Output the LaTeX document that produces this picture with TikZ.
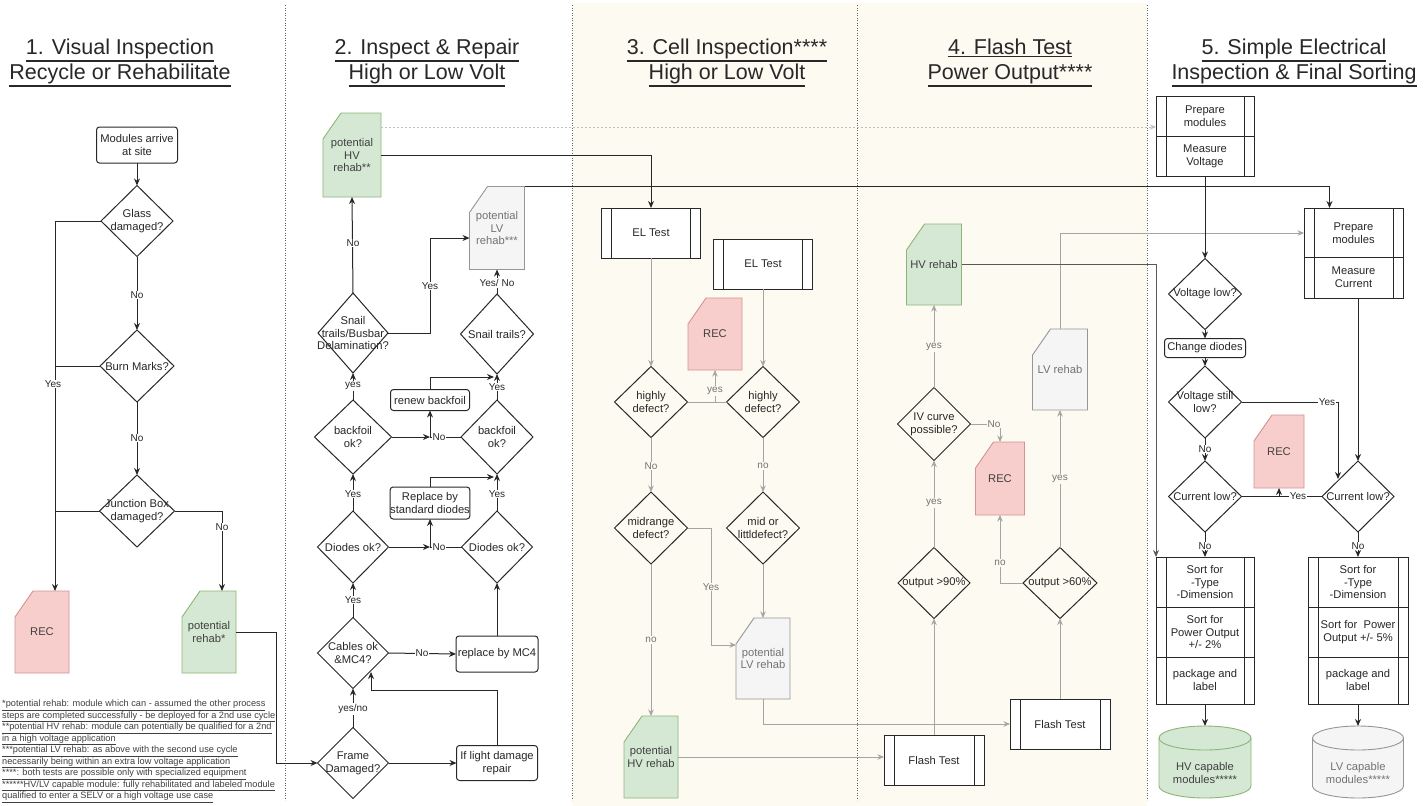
\documentclass[tikz,border=0pt]{standalone}
\usepackage{fontspec}
\setmainfont{Liberation Sans}
\usetikzlibrary{shapes.geometric,arrows.meta,calc}
\definecolor{beige}{RGB}{253,250,242}
\definecolor{gline}{RGB}{165,165,165}
\definecolor{gfill}{RGB}{213,232,212}
\definecolor{gdraw}{RGB}{140,182,118}
\definecolor{rfill}{RGB}{248,206,204}
\definecolor{rdraw}{RGB}{212,146,144}
\definecolor{lfill}{RGB}{245,245,245}
\definecolor{ldraw}{RGB}{150,150,150}
\definecolor{ink}{RGB}{40,40,40}
\newcommand{\myul}[2][1pt]{\setbox0=\hbox{#2}\rlap{\vrule height -\dimexpr\dp0+1pt\relax depth \dimexpr\dp0+1pt+#1\relax width \wd0}\box0}
\tikzset{
 base/.style={font=\fontsize{11.2}{12.8}\selectfont, text=ink, inner sep=0pt, outer sep=0pt, align=center},
 title/.style={font=\fontsize{21.5}{25}\selectfont, text=ink, align=center, inner sep=0pt},
 foot/.style={font=\fontsize{9.2}{11.5}\selectfont, text=black!75, align=left, inner sep=0pt},
 rbox/.style={base, draw=ink, rounded corners=3pt, line width=1pt, fill=white},
 dia/.style={diamond, draw=ink, line width=1pt, inner sep=0pt, outer sep=0pt},
 dtext/.style={base},
 proc/.style={base, draw=ink, line width=1pt, fill=white, path picture={\draw[ink, line width=1pt] ([xshift=10pt]path picture bounding box.north west) -- ([xshift=10pt]path picture bounding box.south west) ([xshift=-10pt]path picture bounding box.north east) -- ([xshift=-10pt]path picture bounding box.south east);}},
 card green/.style={fill=gfill, draw=gdraw, line width=0.9pt},
 card red/.style={fill=rfill, draw=rdraw, line width=0.9pt},
 card gray/.style={fill=lfill, draw=ldraw, line width=0.9pt},
 cardlabel green/.style={base, text=black!75},
 cardlabel red/.style={base, text=black!75},
 cardlabel gray/.style={base, text=black!55},
 cyl green/.style={fill=gfill, draw=gdraw, line width=0.9pt},
 cyl gray/.style={fill=lfill, draw=ldraw, line width=0.9pt},
 ln/.style={line width=1pt, draw=ink},
 arr/.style={ln, -{Stealth[length=7pt,width=6pt]}},
 darr/.style={line width=1pt, draw=black!65, -{Stealth[length=7pt,width=6pt]}},
 gln/.style={line width=0.9pt, draw=gline},
 garr/.style={gln, -{Stealth[length=6.5pt,width=5.5pt]}},
 dsh/.style={line width=0.8pt, draw=black!25, dash pattern=on 2pt off 2pt, -{Stealth[length=6pt,width=5pt]}},
 sep/.style={line width=0.9pt, draw=black!60, dash pattern=on 1.2pt off 1.3pt},
 lbl/.style={font=\fontsize{10}{11}\selectfont, text=ink, fill=white, inner sep=1pt},
 glbl/.style={lbl, fill=beige, text=black!55},
}
\newcommand{\cardnode}[7]{%
 \filldraw[card #6] ({#2-#4/2+18},{#3-#5/2}) -- ({#2+#4/2},{#3-#5/2}) -- ({#2+#4/2},{#3+#5/2}) -- ({#2-#4/2},{#3+#5/2}) -- ({#2-#4/2},{#3-#5/2+26}) -- cycle;
 \node[cardlabel #6, minimum width=#4pt, minimum height=#5pt] (#1) at (#2,#3) {#7};}
\newcommand{\dnode}[6]{%
 \node[dia, minimum width=#4pt, minimum height=#5pt] (#1) at (#2,#3) {};
 \node[dtext] (#1-t) at (#2,#3) {#6};}
\newcommand{\cylnode}[7]{%
 \filldraw[cyl #6] ({#2-#4/2},{#3-#5/2+12}) -- ({#2-#4/2},{#3+#5/2-12}) arc[start angle=180,end angle=360,x radius=#4*0.5pt,y radius=12pt] -- ({#2+#4/2},{#3-#5/2+12}) arc[start angle=0,end angle=180,x radius=#4*0.5pt,y radius=12pt] -- cycle;
 \draw[cyl #6, fill=none] ({#2-#4/2},{#3-#5/2+12}) arc[start angle=180,end angle=360,x radius=#4*0.5pt,y radius=12pt];
 \node[base, minimum width=#4pt, minimum height=#5pt] (#1) at (#2,#3) {};
 \node[cardlabel #6] (#1-t) at (#2,#3+11) {#7};}
\begin{document}
\begin{tikzpicture}[x=1pt,y=-1pt]
\useasboundingbox (0,0) rectangle (1425,806);
\fill[white] (0,0) rectangle (1425,806);
\fill[beige] (572,3) rectangle (1147,806);
\draw[sep] (285,5) -- (285,800);
\draw[sep] (572,5) -- (572,800);
\draw[sep] (857,5) -- (857,800);
\draw[sep] (1147,5) -- (1147,800);

% titles
\node[title] (t1) at (120,63) {\myul[1.4pt]{1. Visual Inspection}\\\myul[1.4pt]{Recycle or Rehabilitate}};
\node[title] (t2) at (427,63) {\myul[1.4pt]{2. Inspect \& Repair}\\\myul[1.4pt]{High or Low Volt}};
\node[title] (t3) at (727,63) {\myul[1.4pt]{3. Cell Inspection****}\\\myul[1.4pt]{High or Low Volt}};
\node[title] (t4) at (1010,63) {\myul[1.4pt]{4. Flash Test}\\\myul[1.4pt]{Power Output****}};
\node[title] (t5) at (1294,63) {\myul[1.4pt]{5. Simple Electrical}\\\myul[1.4pt]{Inspection \& Final Sorting}};

% footnotes
\node[foot, anchor=north west] (notes) at (2,700) {\myul[0.45pt]{*potential rehab: module which can - assumed the other process}\\
\myul[0.45pt]{steps are completed successfully - be deployed for a 2nd use cycle}\\
\myul[0.45pt]{**potential HV rehab: module can potentially be qualified for a 2nd}\\
\myul[0.45pt]{in a high voltage application}\\
\myul[0.45pt]{***potential LV rehab: as above with the second use cycle}\\
\myul[0.45pt]{necessarily being within an extra low voltage application}\\
\myul[0.45pt]{****: both tests are possible only with specialized equipment}\\
\myul[0.45pt]{******HV/LV capable module: fully rehabilitated and labeled module}\\
\myul[0.45pt]{qualified to enter a SELV or a high voltage use case}};

% column 1
\node[rbox, minimum width=81pt, minimum height=36pt] (arrive) at (137,145) {Modules arrive\\at site};
\dnode{glass}{137}{221}{72}{71}{Glass\\damaged?}
\dnode{burn}{137}{366}{74}{72}{Burn Marks?}
\dnode{junc}{137}{511}{75}{72}{Junction Box\\damaged?}
\cardnode{recA}{42}{632}{54}{82}{red}{REC}
\cardnode{rehabA}{209}{632}{54}{82}{green}{potential\\rehab*}
\coordinate (lx) at (55,0);
\coordinate (rx) at (276,0);

% column 2
\cardnode{hvB}{352}{155}{58}{84}{green}{potential\\HV\\rehab**}
\cardnode{lvB}{497}{228}{55}{83}{gray}{potential\\LV\\rehab***}
\dnode{snA}{353}{333}{70}{80}{Snail\\trails/Busbar\\Delamination?}
\dnode{snB}{497}{334}{73}{80}{Snail trails?}
\dnode{bfA}{353}{437}{77}{74}{backfoil\\ok?}
\dnode{bfB}{497}{437}{72}{74}{backfoil\\ok?}
\node[rbox, minimum width=79pt, minimum height=21pt] (renew) at (430,400) {renew backfoil};
\dnode{diA}{353}{547}{71}{72}{Diodes ok?}
\dnode{diB}{497}{547}{71}{72}{Diodes ok?}
\node[rbox, minimum width=79pt, minimum height=32pt] (repl) at (430,503) {Replace by\\standard diodes};
\dnode{cab}{353}{653}{71}{71}{Cables ok\\\&MC4?}
\node[rbox, minimum width=82pt, minimum height=36pt] (mc4) at (497,654) {replace by MC4};
\dnode{frame}{353}{763}{71}{71}{Frame\\Damaged?}
\node[rbox, minimum width=81pt, minimum height=35pt] (ild) at (497,763) {If light damage\\repair};
\coordinate (jb) at (430,437);
\coordinate (jd) at (430,547);
\coordinate (snBin) at (494,377);
\coordinate (bfBin) at (494,477);
\coordinate (cabk) at (371,690);
\coordinate (cabin) at (371,672);
\coordinate (snk) at (430,238);

% column 3
\node[proc, minimum width=99pt, minimum height=50pt] (elA) at (651,233) {EL Test};
\node[proc, minimum width=99pt, minimum height=50pt] (elB) at (763,264) {EL Test};
\cardnode{recC}{715}{334}{54}{72}{red}{REC}
\dnode{hiA}{651}{402}{73}{71}{highly\\defect?}
\dnode{hiB}{763}{402}{73}{71}{highly\\defect?}
\dnode{miA}{651}{528}{73}{72}{midrange\\defect?}
\dnode{miB}{763}{528}{73}{72}{mid or\\littldefect?}
\cardnode{lvC}{763}{658.5}{54}{81}{gray}{potential\\LV rehab}
\cardnode{hvC}{651}{757}{54}{82}{green}{potential\\HV rehab}
\coordinate (jh) at (715,402);
\coordinate (mk) at (711,645);

% column 4
\cardnode{hvD}{934}{264.5}{55}{81}{green}{HV rehab}
\cardnode{lvD}{1060}{369.5}{55}{81}{gray}{LV rehab}
\dnode{iv}{934}{424}{73}{73}{IV curve\\possible?}
\cardnode{recD}{1000}{478.5}{49}{73}{red}{REC}
\dnode{oA}{934}{583}{72}{71}{output >90\%}
\dnode{oB}{1060}{583}{74}{71}{output >60\%}
\node[proc, minimum width=100pt, minimum height=50pt] (ftA) at (934,760) {Flash Test};
\node[proc, minimum width=100pt, minimum height=50pt] (ftB) at (1060,724) {Flash Test};

% column 5
\node[proc, minimum width=98pt, minimum height=80pt] (pmA) at (1205,136) {};
\node[base] (pmAa) at (1205,116) {Prepare\\modules};
\node[base] (pmAb) at (1205,156) {Measure\\Voltage};
\draw[ln] (pmA.west) -- (pmA.east);
\node[proc, minimum width=99pt, minimum height=90pt] (pmB) at (1353.5,253) {};
\node[base] (pmBa) at (1353.5,233) {Prepare\\modules};
\node[base] (pmBb) at (1353.5,277) {Measure\\Current};
\draw[ln] ([yshift=-4pt]pmB.west) -- ([yshift=-4pt]pmB.east);
\dnode{vl}{1205}{294}{73}{71}{Voltage low?}
\node[rbox, minimum width=81pt, minimum height=19pt] (chd) at (1205,348) {Change diodes};
\dnode{vs}{1205}{402}{73}{72}{Voltage still\\low?}
\dnode{clA}{1205}{496.5}{73}{71}{Current low?}
\dnode{clB}{1358}{496.5}{72}{71}{Current low?}
\cardnode{recE}{1279}{451.5}{50}{73}{red}{REC}
\node[proc, minimum width=98pt, minimum height=147pt] (sortA) at (1205,630.5) {};
\draw[ln] ([yshift=23.5pt]sortA.west) -- ([yshift=23.5pt]sortA.east);
\draw[ln] ([yshift=-26.5pt]sortA.west) -- ([yshift=-26.5pt]sortA.east);
\node[base] (sAa) at (1205,582) {Sort for\\-Type\\-Dimension};
\node[base] (sAb) at (1205,632) {Sort for\\Power Output\\+/- 2\%};
\node[base] (sAc) at (1205,680) {package and\\label};
\node[proc, minimum width=100pt, minimum height=147pt] (sortB) at (1358,630.5) {};
\draw[ln] ([yshift=23.5pt]sortB.west) -- ([yshift=23.5pt]sortB.east);
\draw[ln] ([yshift=-26.5pt]sortB.west) -- ([yshift=-26.5pt]sortB.east);
\node[base] (sBa) at (1358,582) {Sort for\\-Type\\-Dimension};
\node[base] (sBb) at (1358,632) {Sort for\ \ Power\\Output +/- 5\%};
\node[base] (sBc) at (1358,680) {package and\\label};
\cylnode{hvcap}{1205}{762}{92}{72}{green}{HV capable\\modules*****}
\cylnode{lvcap}{1358}{762}{91}{72}{gray}{LV capable\\modules*****}
\coordinate (clBin) at (1338,479);
\coordinate (jr) at (1279,496.5);
\path (pmB.north west) ++(0,25) coordinate (pmBin);
\path (hvB.east) ++(0,-28) coordinate (dsA);

% edges column 1
\draw[arr] (arrive.south) -- (glass.north);
\draw[arr] (glass.south) -- (burn.north);
\draw[arr] (burn.south) -- (junc.north);
\draw[arr] (glass.west) -| ([xshift=13pt]recA.north);
\draw[ln] (burn.west) -- (burn.west -| lx);
\draw[ln] (junc.west) -- (junc.west -| lx);
\draw[arr] (junc.east) -| ([xshift=13pt]rehabA.north);
\draw[arr] (rehabA.east) -| (rx |- frame.west) -- (frame.west);

% edges column 2
\draw[arr] (frame.north) -- (cab.south);
\draw[arr] (frame.east) -- (ild.west);
\draw[arr] (ild.north) |- (cabk) -- (cabin);
\draw[arr] (cab.north) -- (diA.south);
\draw[arr] (cab.east) -- (mc4.west);
\draw[arr] (mc4.north) -- (diB.south);
\draw[arr] (diA.north) -- (bfA.south);
\draw[arr] (diB.north) -- (bfB.south);
\draw[arr] (diA.east) -- (jd);
\draw[ln] (diB.west) -- (jd);
\draw[arr] (jd) -- (repl.south);
\draw[arr] (repl.north) |- (bfBin);
\draw[arr] (bfA.east) -- (jb);
\draw[ln] (bfB.west) -- (jb);
\draw[arr] (jb) -- (renew.south);
\draw[arr] (renew.north) |- (snBin);
\draw[arr] (bfA.north) -- (snA.south);
\draw[arr] (bfB.north) -- (snB.south);
\draw[arr] (snA.north) -- (hvB.south);
\draw[arr] (snA.east) -| (snk) -- (snk -| lvB.west);
\draw[arr] (snB.north) -- (lvB.south);
\draw[dsh] (dsA) -- (dsA -| pmA.west);
\draw[arr] (hvB.east) -| (elA.north);
\draw[arr] (lvB.north east) -| ([xshift=-24pt]pmB.north);

% edges column 3
\draw[garr] (elA.south) -- (hiA.north);
\draw[garr] (elB.south) -- (hiB.north);
\draw[gln] (hiA.east) -- (hiB.west);
\draw[garr] (jh) -- (recC.south);
\draw[garr] (hiA.south) -- (miA.north);
\draw[garr] (hiB.south) -- (miB.north);
\draw[garr] (miA.east) -| (mk) -- (mk -| lvC.west);
\draw[garr] (miB.south) -- (lvC.north);
\draw[garr] (miA.south) -- (hvC.north);
\draw[garr] (lvC.south) |- (ftB.west);
\draw[garr] (hvC.east) -- (hvC.east -| ftA.west);

% edges column 4
\draw[garr] (ftA.north) -- (oA.south);
\draw[garr] (ftB.north) -- (oB.south);
\draw[garr] (oA.north) -- (iv.south);
\draw[garr] (iv.north) -- (hvD.south);
\draw[garr] (iv.east) -| (recD.north);
\draw[garr] (oB.west) -| (recD.south);
\draw[garr] (oB.north) -- (lvD.south);
\draw[garr] (lvD.north) |- (pmBin);
\draw[darr] (hvD.east) -| (sortA.north west);

% edges column 5
\draw[arr] (pmA.south) -- (vl.north);
\draw[arr] (vl.south) -- (chd.north);
\draw[arr] (chd.south) -- (vs.north);
\draw[arr] (vs.south) -- (clA.north);
\draw[arr] (vs.east) -| (clBin);
\draw[arr] (pmB.south -| clB.north) -- (clB.north);
\draw[ln] (clA.east) -- (clB.west);
\draw[arr] (jr) -- (recE.south);
\draw[arr] (clA.south) -- (sortA.north);
\draw[arr] (clB.south) -- (sortB.north);
\draw[arr] (sortA.south) -- (hvcap.north);
\draw[arr] (sortB.south) -- (lvcap.north);

% labels
\node[lbl] (la1) at (137,295) {No};
\node[lbl] (la2) at (137,438) {No};
\node[lbl] (la3) at (53,384) {Yes};
\node[lbl] (la4) at (222,527) {No};
\node[lbl] (lb1) at (353,243) {No};
\node[lbl] (lb2) at (430,286) {Yes};
\node[lbl] (lb3) at (497,283) {Yes/ No};
\node[lbl] (lb4) at (353,386) {yes};
\node[lbl] (lb5) at (497,387) {Yes};
\node[lbl] (lb6) at (439,437) {No};
\node[lbl] (lb7) at (353,494) {Yes};
\node[lbl] (lb8) at (497,494) {Yes};
\node[lbl] (lb9) at (439,547) {No};
\node[lbl] (lb10) at (353,600) {Yes};
\node[lbl] (lb11) at (422,653) {No};
\node[lbl] (lb12) at (353,709) {yes/no};
\node[glbl] (lc1) at (715,391) {yes};
\node[glbl] (lc2) at (651,466) {No};
\node[glbl] (lc3) at (763,466) {no};
\node[glbl] (lc4) at (711,587) {Yes};
\node[glbl] (lc5) at (651,640) {no};
\node[glbl] (ld1) at (934,347) {yes};
\node[glbl] (ld2) at (994,424) {No};
\node[glbl] (ld3) at (934,503) {yes};
\node[glbl] (ld4) at (1000,563) {no};
\node[glbl] (ld5) at (1060,479) {yes};
\node[lbl] (le1) at (1205,449) {No};
\node[lbl] (le2) at (1327,402) {Yes};
\node[lbl] (le3) at (1298,496.5) {Yes};
\node[lbl] (le4) at (1205,546) {No};
\node[lbl] (le5) at (1358,546) {No};
\end{tikzpicture}
\end{document}
